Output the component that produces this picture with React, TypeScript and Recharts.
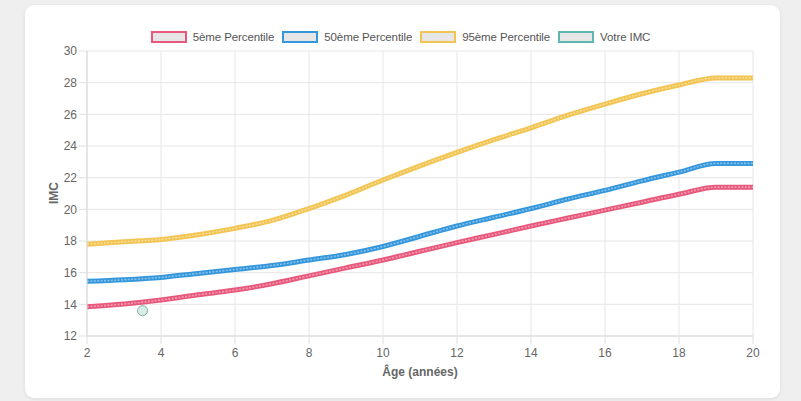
import React from 'react';
import { ComposedChart, Line, Scatter, XAxis, YAxis, CartesianGrid } from 'recharts';

const ages = [2, 3, 4, 5, 6, 7, 8, 9, 10, 11, 12, 13, 14, 15, 16, 17, 18, 19, 20];
const p5 = [13.85, 14.02, 14.27, 14.6, 14.9, 15.3, 15.8, 16.3, 16.8, 17.35, 17.9, 18.42, 18.95, 19.45, 19.95, 20.45, 20.95, 21.4, 21.4];
const p50 = [15.45, 15.55, 15.7, 15.95, 16.2, 16.45, 16.8, 17.15, 17.65, 18.3, 18.95, 19.5, 20.05, 20.65, 21.2, 21.8, 22.35, 22.9, 22.9];
const p95 = [17.8, 17.95, 18.1, 18.4, 18.8, 19.3, 20.05, 20.9, 21.85, 22.75, 23.6, 24.4, 25.15, 25.95, 26.65, 27.3, 27.85, 28.3, 28.3];
const userAge = [3.5];
const userImc = [13.6];

const xTicks = [2, 4, 6, 8, 10, 12, 14, 16, 18, 20];
const yTicks = [12, 14, 16, 18, 20, 22, 24, 26, 28, 30];

const seriesNames = ['5ème Percentile', '50ème Percentile', '95ème Percentile', 'Votre IMC'];
const seriesColors = ['#e8587c', '#3497dc', '#f2c451', '#5fb8b0'];

const toRows = (vals: number[]) => ages.map((a, i) => ({ age: a, imc: vals[i] }));
const lines = [p5, p50, p95].map(toRows);
const userRows = userAge.map((a, i) => ({ age: a, imc: userImc[i] }));

const FONT = '"Liberation Sans", Arial, Helvetica, sans-serif';

export default function App() {
  return (
    <div style={{ position: 'absolute', left: 0, top: 0, width: 801, height: 401, background: '#efefef', overflow: 'hidden', fontFamily: FONT }}>
      <div style={{ position: 'absolute', left: 25, top: 5, width: 755, height: 393, background: '#fff', borderRadius: 9, boxShadow: '0 1px 4px rgba(0,0,0,0.08)' }} />
      <div style={{ position: 'absolute', left: 0, top: 0 }}>
        <ComposedChart width={801} height={401} margin={{ top: 51, right: 48, left: 0, bottom: 0 }}>
          <CartesianGrid stroke="#e6e6e6" strokeWidth={1} />
          <XAxis
            type="number"
            dataKey="age"
            domain={[2, 20]}
            ticks={xTicks}
            allowDataOverflow
            height={65}
            tickSize={8}
            tickMargin={4}
            tickLine={{ stroke: '#e0e0e0' }}
            axisLine={{ stroke: '#d8d8d8' }}
            tick={{ fill: '#666', fontSize: 12, fontFamily: FONT }}
          />
          <YAxis
            type="number"
            dataKey="imc"
            domain={[12, 30]}
            ticks={yTicks}
            allowDataOverflow
            width={87}
            tickSize={8}
            tickMargin={2}
            tickLine={{ stroke: '#e0e0e0' }}
            axisLine={{ stroke: '#d8d8d8' }}
            tick={{ fill: '#666', fontSize: 12, fontFamily: FONT }}
          />
          {lines.map((d, i) => (
            <Line
              key={'l' + i}
              data={d}
              dataKey="imc"
              type="monotone"
              stroke={seriesColors[i]}
              strokeWidth={5}
              dot={false}
              activeDot={false}
              isAnimationActive={false}
            />
          ))}
          {lines.map((d, i) => (
            <Line
              key={'o' + i}
              data={d}
              dataKey="imc"
              type="monotone"
              stroke="rgba(255,255,255,0.4)"
              strokeWidth={1.6}
              strokeDasharray="2 1.4"
              dot={false}
              activeDot={false}
              isAnimationActive={false}
            />
          ))}
          <Scatter
            data={userRows}
            dataKey="imc"
            isAnimationActive={false}
            shape={(p: any) => (
              <circle cx={p.cx} cy={p.cy} r={5} fill="#d9ebe6" stroke="#78b3a7" strokeWidth={1} />
            )}
          />
        </ComposedChart>
      </div>
      <div style={{ position: 'absolute', left: 0, top: 30, width: 801, display: 'flex', justifyContent: 'center', alignItems: 'center' }}>
        {seriesNames.map((n, i) => (
          <div key={n} style={{ display: 'flex', alignItems: 'center', marginRight: i < seriesNames.length - 1 ? 8 : 0 }}>
            <div style={{ width: 36, height: 12, boxSizing: 'border-box', border: `2px solid ${seriesColors[i]}`, background: '#e6e6e6', marginRight: 6 }} />
            <span style={{ fontSize: 11.5, color: '#555', lineHeight: '14px', letterSpacing: -0.1 }}>{n}</span>
          </div>
        ))}
      </div>
      <div style={{ position: 'absolute', left: 54, top: 193, transform: 'translate(-50%,-50%) rotate(-90deg)', fontSize: 12, fontWeight: 'bold', color: '#666', whiteSpace: 'nowrap' }}>IMC</div>
      <div style={{ position: 'absolute', left: 420, top: 372, transform: 'translate(-50%,-50%)', fontSize: 12, fontWeight: 'bold', color: '#666', whiteSpace: 'nowrap' }}>Âge (années)</div>
    </div>
  );
}
